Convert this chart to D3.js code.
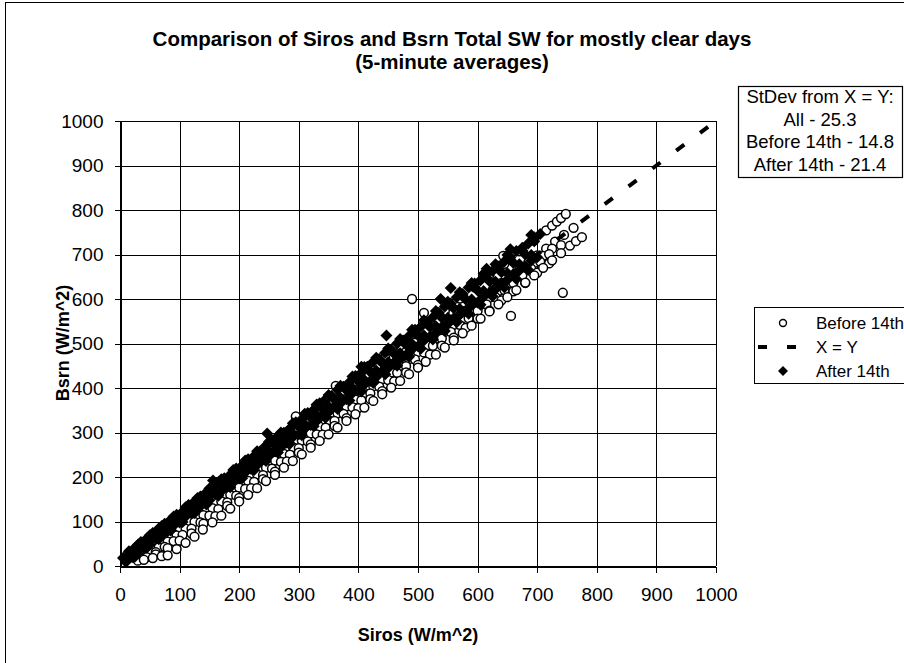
<!DOCTYPE html>
<html lang="en-US">
<head>
<meta charset="utf-8">
<script src="https://d3js.org/d3.v7.min.js"></script>
<style>
    body { margin: 0; background: #fff; }
    svg text { font-family: "Liberation Sans", Arial, sans-serif; fill: #000; }
    .grid line { stroke: #000; stroke-width: 1; shape-rendering: crispEdges; }
    .axis path, .axis line { stroke: #000; shape-rendering: crispEdges; }
</style>
</head>
<body>
<div id="canvas"></div>
<script>
    var xTicks = [0, 100, 200, 300, 400, 500, 600, 700, 800, 900, 1000];
    var yTicks = [0, 100, 200, 300, 400, 500, 600, 700, 800, 900, 1000];

    // Before 14th: [Siros, Bsrn]
    var beforePoints = [
        [20,23],[45,49],[70,75],[95,101],[120,128],[145,153],[170,181],[195,206],[220,233],[245,259],[270,286],[295,311],
        [320,338],[345,364],[370,391],[395,416],[420,443],[445,468],[470,496],[495,521],[520,548],[545,573],[570,601],
        [595,626],[620,654],[645,679],[670,707],[695,732],[715,754],[725,765],[733,774],[740,782],[748,791],
        [25,18],[40,30],[55,44],[70,58],[85,72],[100,86],[115,101],[130,116],[145,131],[160,146],[175,162],[190,176],
        [205,192],[220,207],[235,222],[250,237],[265,253],[280,267],[295,283],[310,298],[325,313],[340,329],[355,344],
        [370,359],[385,375],[400,390],[415,405],[430,421],[445,436],[460,451],[475,467],[490,482],[505,497],[520,513],
        [535,528],[550,543],[565,559],[580,574],[595,589],[610,605],[625,620],[640,636],[655,651],[670,667],[685,682],
        [700,698],[715,713],[730,729],[745,744],[761,760],
        [35,18],[50,30],[65,42],[80,55],[95,69],[110,84],[125,99],[140,114],[155,130],[170,145],[185,160],[200,176],
        [215,191],[230,206],[245,221],[260,237],[275,252],[290,267],[305,282],[320,298],[335,313],[350,328],[365,343],
        [380,359],[395,374],[410,389],[425,404],[440,420],[455,435],[470,450],[485,465],[500,481],[515,496],[530,511],
        [545,526],[560,542],[575,557],[590,572],[605,587],[620,603],[635,618],[650,634],[665,649],[680,665],[695,681],
        [710,697],[725,713],
        [30,12],[45,20],[60,31],[75,43],[90,56],[105,70],[120,84],[135,98],[150,113],[165,128],[180,143],[195,158],
        [210,173],[225,189],[240,204],[255,219],[270,234],[285,250],[300,265],[315,280],[330,296],[345,311],[360,326],
        [375,342],[390,357],[405,372],[420,388],[435,403],[450,418],[465,434],[480,449],[495,464],[510,480],[525,495],
        [540,511],[555,526],[570,542],[585,557],[600,573],[615,588],[630,604],[645,620],[660,636],[675,652],[690,668],
        [705,684],[720,701],[740,721],
        [60,26],[80,40],[100,57],[120,73],[140,95],[160,112],[180,135],[200,153],[220,175],[240,195],[260,212],[280,235],
        [300,255],[320,273],[340,295],[360,315],[380,332],[400,355],[420,375],[440,393],[460,415],[480,435],[500,452],
        [520,475],[540,495],[560,513],[580,535],[600,556],[620,574],[640,597],[660,617],[680,636],[700,659],[720,680],
        [40,14],[55,18],[70,22],[80,24],[95,38],[110,52],[125,66],[139,82],[155,98],[170,113],[185,129],[200,145],
        [215,160],[230,175],[245,191],[260,205],[275,221],[290,236],[305,251],[320,266],[335,281],[350,296],[365,311],
        [380,326],[395,341],[410,356],[425,371],[440,386],[455,401],[470,416],[485,431],[500,446],[513,459],[530,475],
        [545,491],[560,507],[575,523],[590,540],[605,556],[620,572],[635,588],[650,604],[665,620],[680,637],[695,653],
        [710,670],[725,687],[740,703],[755,720],[765,730],[775,739],
        [490,600],[362,405],[295,336],[510,569],[643,697],[656,562],[743,614]
    ];

    // After 14th: [Siros, Bsrn]
    var afterPoints = [
        [5,18],[15,31],[25,41],[35,49],[45,62],[55,72],[65,84],[75,93],[85,104],[95,112],[105,122],[115,136],[125,145],
        [135,150],[145,166],[155,174],[165,188],[175,195],[185,205],[195,219],[205,226],[215,240],[225,247],[235,257],
        [245,271],[255,283],[265,292],[275,299],[285,309],[295,323],[305,330],[315,344],[325,351],[335,366],[345,375],
        [355,382],[365,396],[375,403],[385,413],[395,427],[405,434],[415,448],[425,459],[435,465],[445,479],[455,486],
        [465,500],[475,507],[485,517],[495,531],[505,538],[515,548],[525,559],[535,569],[545,583],[555,590],[565,604],
        [575,611],[585,626],[595,635],[605,642],[615,656],[625,663],[635,673],[645,684],[655,694],[665,708],[675,715],
        [685,725],[695,739],[705,746],
        [10,9],[20,21],[30,28],[40,41],[50,48],[60,61],[70,69],[80,78],[90,91],[100,98],[110,111],[120,118],[130,128],
        [140,141],[150,148],[160,161],[170,168],[180,178],[190,191],[200,197],[210,210],[220,218],[230,227],[240,240],
        [250,247],[260,260],[270,267],[280,277],[290,290],[300,296],[310,309],[320,317],[330,326],[340,339],[350,346],
        [360,359],[370,366],[380,375],[390,389],[400,395],[410,408],[420,416],[430,425],[440,438],[450,445],[460,458],
        [470,465],[480,474],[490,487],[500,494],[510,507],[520,515],[530,524],[540,537],[550,544],[560,557],[570,564],
        [580,573],[590,586],[600,592],[610,605],[620,613],[630,622],[640,635],[650,643],[660,656],[670,664],[680,673],
        [690,686],[700,694],
        [20,28],[40,47],[60,69],[80,88],[100,110],[120,128],[140,149],[160,171],[180,190],[200,211],[220,231],[240,251],
        [260,272],[280,292],[300,313],[320,334],[340,353],[360,374],[380,395],[400,415],[420,436],[440,456],[460,477],
        [480,497],[500,518],[520,537],[540,558],[560,579],[580,599],[600,619],[620,640],[640,660],[660,681],[680,700],
        [15,33],[35,54],[55,74],[75,95],[95,115],[115,137],[135,156],[155,176],[175,197],[195,217],[215,238],[235,258],
        [255,279],[275,299],[295,320],[315,340],[335,361],[355,381],[375,402],[395,422],[415,443],[435,463],[455,484],
        [475,504],[495,525],[515,545],[535,566],[555,586],[575,607],[595,627],[615,648],[635,668],[655,689],[675,709],
        [695,730],
        [10,17],[30,38],[50,58],[70,78],[90,99],[110,118],[130,139],[150,158],[170,178],[190,199],[210,218],[230,239],
        [250,258],[270,279],[290,298],[310,318],[330,339],[350,358],[370,378],[390,399],[410,418],[430,439],[450,458],
        [470,478],[490,499],[510,518],[530,539],[550,558],[570,578],[590,599],[610,618],[630,639],[650,658],[670,678],
        [690,699],
        [25,21],[45,41],[65,60],[85,80],[105,99],[125,119],[145,138],[165,158],[185,177],[205,197],[225,216],[245,236],
        [265,255],[285,275],[305,294],[325,314],[345,333],[365,353],[385,372],[405,392],[425,411],[445,431],[465,450],
        [485,470],[505,489],[525,509],[545,528],[565,548],[585,567],[605,587],[625,606],[645,626],[665,645],[685,665],
        [30,48],[50,69],[70,90],[90,111],[110,132],[130,153],[150,174],[170,195],[190,216],[210,237],[230,258],[250,279],
        [270,300],[290,321],[310,342],[330,363],[350,384],[370,405],[390,426],[410,447],[430,468],[450,489],[470,510],
        [490,531],[510,552],[530,573],[550,594],[570,615],[590,636],[610,657],[630,678],[650,699],
        [156,192],[247,298],[447,518],[538,600],[555,625],[330,362],[405,448],[615,668],[655,712],[690,744]
    ];

    var identityLine = [[0, 0], [1000, 1000]];

    var titleLines = ["Comparison of Siros and Bsrn Total SW for mostly clear days", "(5-minute averages)"];
    var statsLines = ["StDev from X = Y:", "All - 25.3", "Before 14th - 14.8", "After 14th - 21.4"];
    var legendLabels = ["Before 14th", "X = Y", "After 14th"];

    var svg = d3.select("#canvas")
        .append("svg")
        .attr("width", 904)
        .attr("height", 663);

    svg.append("rect").attr("width", 904).attr("height", 663).attr("fill", "#fff");
    // chart area border (right / bottom fall outside the picture)
    svg.append("rect")
        .attr("x", 5.5).attr("y", 2.5)
        .attr("width", 1000).attr("height", 1000)
        .attr("fill", "none").attr("stroke", "#000");

    var plot = { left: 120, top: 121, right: 716, bottom: 566 };
    var x = d3.scaleLinear().domain([0, 1000]).range([plot.left, plot.right]);
    var y = d3.scaleLinear().domain([0, 1000]).range([plot.bottom, plot.top]);

    // grid
    var grid = svg.append("g").attr("class", "grid");
    grid.selectAll(".vx").data(xTicks).enter().append("line")
        .attr("x1", function (d) { return Math.round(x(d)) + 0.5; })
        .attr("x2", function (d) { return Math.round(x(d)) + 0.5; })
        .attr("y1", plot.top).attr("y2", plot.bottom);
    grid.selectAll(".hy").data(yTicks).enter().append("line")
        .attr("y1", function (d) { return Math.round(y(d)) + 0.5; })
        .attr("y2", function (d) { return Math.round(y(d)) + 0.5; })
        .attr("x1", plot.left).attr("x2", plot.right);

    // axes
    svg.append("g")
        .attr("class", "axis")
        .attr("transform", "translate(0," + (Math.round(y(0)) + 0.5) + ")")
        .call(d3.axisBottom(x).tickValues(xTicks).tickFormat(d3.format("d")).tickSize(6).tickPadding(15));
    svg.append("g")
        .attr("class", "axis")
        .attr("transform", "translate(" + (Math.round(x(0)) + 0.5) + ",0)")
        .call(d3.axisLeft(y).tickValues(yTicks).tickFormat(d3.format("d")).tickSize(6).tickPadding(11));
    svg.selectAll(".axis text")
        .style("font-family", '"Liberation Sans", Arial, sans-serif')
        .style("font-size", "19px");

    // Before 14th
    svg.append("g").selectAll("circle")
        .data(beforePoints)
        .enter().append("circle")
        .attr("cx", function (d) { return x(d[0]); })
        .attr("cy", function (d) { return y(d[1]); })
        .attr("r", 4.4)
        .attr("fill", "#fff")
        .attr("stroke", "#000")
        .attr("stroke-width", 1.5);

    // X = Y
    var lineLen = Math.hypot(x(1000) - x(0), y(0) - y(1000));
    var period = lineLen / 25;
    svg.append("path")
        .datum(identityLine)
        .attr("d", d3.line().x(function (d) { return x(d[0]); }).y(function (d) { return y(d[1]); }))
        .attr("fill", "none")
        .attr("stroke", "#000")
        .attr("stroke-width", 4)
        .attr("stroke-dasharray", "10," + (period - 10))
        .attr("stroke-dashoffset", -(period / 2 - 5));

    // After 14th
    var diamond = "M0,-6L6,0L0,6L-6,0Z";
    svg.append("g").selectAll("path")
        .data(afterPoints)
        .enter().append("path")
        .attr("d", diamond)
        .attr("transform", function (d) { return "translate(" + x(d[0]) + "," + y(d[1]) + ")"; })
        .attr("fill", "#000");

    // titles
    svg.selectAll(".title").data(titleLines).enter().append("text")
        .attr("x", 452)
        .attr("y", function (d, i) { return 46 + i * 23; })
        .attr("text-anchor", "middle")
        .style("font-size", "20.5px")
        .style("font-weight", "bold")
        .text(function (d) { return d; });

    svg.append("text")
        .attr("x", 418).attr("y", 641)
        .attr("text-anchor", "middle")
        .style("font-size", "18px").style("font-weight", "bold")
        .text("Siros (W/m^2)");

    svg.append("text")
        .attr("transform", "translate(69,343) rotate(-90)")
        .attr("text-anchor", "middle")
        .style("font-size", "18px").style("font-weight", "bold")
        .text("Bsrn (W/m^2)");

    // stats box
    svg.append("rect")
        .attr("x", 738.5).attr("y", 86.5)
        .attr("width", 164).attr("height", 91)
        .attr("fill", "#fff").attr("stroke", "#000").attr("stroke-width", 1.2);
    svg.selectAll(".stat").data(statsLines).enter().append("text")
        .attr("x", 820)
        .attr("y", function (d, i) { return 103 + i * 22.5; })
        .attr("text-anchor", "middle")
        .style("font-size", "18.5px")
        .text(function (d) { return d; });

    // legend
    var legend = svg.append("g");
    legend.append("rect")
        .attr("x", 754.5).attr("y", 307.5)
        .attr("width", 160).attr("height", 76)
        .attr("fill", "#fff").attr("stroke", "#000");
    var rowY = [323, 347, 371];
    legend.append("circle")
        .attr("cx", 783).attr("cy", rowY[0]).attr("r", 3.5)
        .attr("fill", "#fff").attr("stroke", "#000").attr("stroke-width", 1.4);
    legend.append("line")
        .attr("x1", 758).attr("x2", 797)
        .attr("y1", rowY[1]).attr("y2", rowY[1])
        .attr("stroke", "#000").attr("stroke-width", 4)
        .attr("stroke-dasharray", "9,20");
    legend.append("path")
        .attr("d", "M0,-5L5,0L0,5L-5,0Z")
        .attr("transform", "translate(783," + rowY[2] + ")")
        .attr("fill", "#000");
    legend.selectAll(".lab").data(legendLabels).enter().append("text")
        .attr("x", 816)
        .attr("y", function (d, i) { return rowY[i] + 6; })
        .style("font-size", "17px")
        .text(function (d) { return d; });
</script>
</body>
</html>
